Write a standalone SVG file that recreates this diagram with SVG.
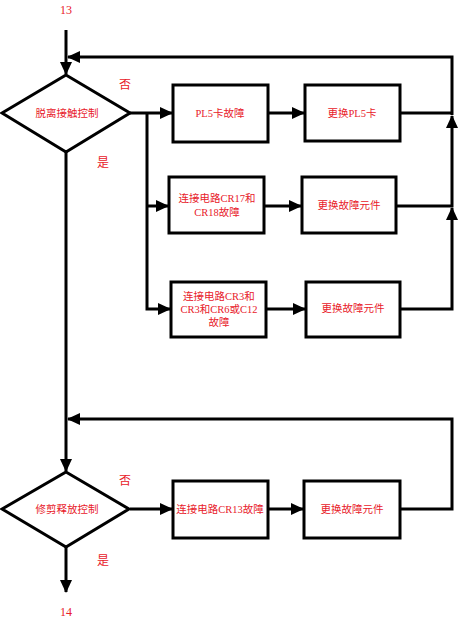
<svg xmlns="http://www.w3.org/2000/svg" width="458" height="621" viewBox="0 0 458 621">
<style>
.n{fill:#fff;stroke:#000;stroke-width:3}
.c{fill:none;stroke:#000;stroke-width:3}
.a{marker-end:url(#ah)}
text{font-family:"Liberation Serif","Noto Sans CJK SC",serif;font-size:10.5px;fill:#e8202a;text-anchor:middle;dominant-baseline:central}
.l{font-size:12px}
</style>
<defs>
<marker id="ah" markerUnits="userSpaceOnUse" markerWidth="13" markerHeight="12" refX="12" refY="6" orient="auto">
<path d="M0,0 L13,6 L0,12 z" fill="#000"/>
</marker>
</defs>
<g id="connectors">
<path class="c a" d="M66,30 V74"/>
<path class="c a" d="M452,115 V57 H68"/>
<path class="c a" d="M130,113 H172"/>
<path class="c a" d="M147,113 V309 H170"/>
<path class="c a" d="M147,206 H168"/>
<path class="c a" d="M268,113 H304"/>
<path class="c a" d="M264,206 H301"/>
<path class="c a" d="M266,309 H305"/>
<path class="c" d="M400,113 H452"/>
<path class="c a" d="M396,206 H452 V116"/>
<path class="c a" d="M400,309 H452 V208"/>
<path class="c a" d="M66,152 V471"/>
<path class="c a" d="M400,509 H452 V419 H68"/>
<path class="c a" d="M130,509 H172"/>
<path class="c a" d="M268,509 H303"/>
<path class="c a" d="M66,547 V592"/>
</g>
<g id="start"><text x="66" y="10" class="l">13</text></g>
<g id="d1">
<path class="n" d="M66,75 L130,113 L66,152 L2,113 z"/>
<text x="67" y="113">脱离接触控制</text>
</g>
<g id="no1"><text x="125" y="85" class="l">否</text></g>
<g id="yes1"><text x="103" y="163" class="l">是</text></g>
<g id="b1">
<rect class="n" x="173" y="85" width="95" height="57"/>
<text x="220" y="113">PL5卡故障</text>
</g>
<g id="b2">
<rect class="n" x="305" y="85" width="95" height="56"/>
<text x="352" y="113">更换PL5卡</text>
</g>
<g id="b3">
<rect class="n" x="169" y="177" width="95" height="56"/>
<text x="217" y="198">连接电路CR17和</text>
<text x="217" y="212">CR18故障</text>
</g>
<g id="b4">
<rect class="n" x="302" y="177" width="94" height="56"/>
<text x="349" y="205">更换故障元件</text>
</g>
<g id="b5">
<rect class="n" x="171" y="282" width="95" height="55"/>
<text x="219" y="296">连接电路CR3和</text>
<text x="219" y="309">CR3和CR6或C12</text>
<text x="219" y="322">故障</text>
</g>
<g id="b6">
<rect class="n" x="306" y="282" width="94" height="55"/>
<text x="353" y="308">更换故障元件</text>
</g>
<g id="d2">
<path class="n" d="M66,472 L129,509 L66,547 L2,509 z"/>
<text x="67" y="509">修剪释放控制</text>
</g>
<g id="no2"><text x="125" y="481" class="l">否</text></g>
<g id="yes2"><text x="103" y="561" class="l">是</text></g>
<g id="b7">
<rect class="n" x="173" y="481" width="95" height="57"/>
<text x="220" y="509">连接电路CR13故障</text>
</g>
<g id="b8">
<rect class="n" x="304" y="481" width="96" height="57"/>
<text x="352" y="509">更换故障元件</text>
</g>
<g id="end"><text x="66" y="612" class="l">14</text></g>
</svg>
